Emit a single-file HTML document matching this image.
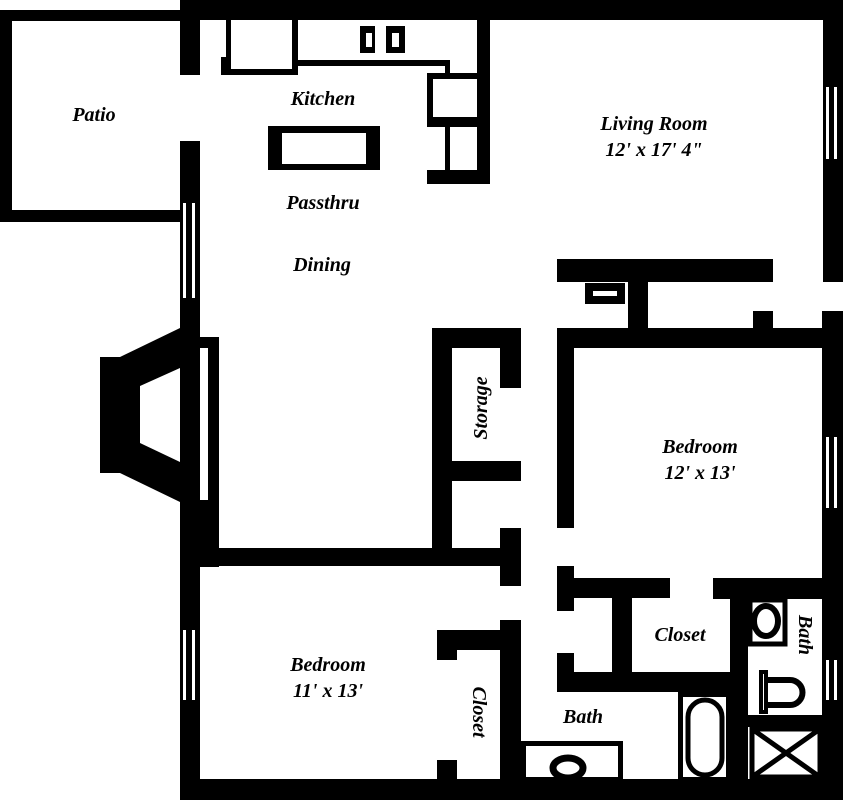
<!DOCTYPE html>
<html><head><meta charset="utf-8"><style>
html,body{margin:0;padding:0;background:#fff}
svg{display:block}
text{font-family:"Liberation Serif",serif;font-style:italic;font-weight:bold;font-size:20px;fill:#000}
</style></head><body>
<svg width="843" height="800" viewBox="0 0 843 800" xmlns="http://www.w3.org/2000/svg">
<g fill="#000">
<rect x="180" y="0" width="663" height="20"/>
<rect x="823" y="0" width="20" height="282"/>
<rect x="822" y="311" width="21" height="489"/>
<rect x="180" y="779" width="663" height="21"/>
<rect x="180" y="0" width="20" height="75"/>
<rect x="180" y="141" width="20" height="659"/>
<rect x="0" y="10" width="180" height="11"/>
<rect x="0" y="10" width="12" height="212"/>
<rect x="0" y="210" width="180" height="12"/>
<rect x="226" y="20" width="72" height="55"/>
<rect x="221" y="57" width="10" height="18"/>
<rect x="292" y="60" width="158" height="6"/>
<rect x="445" y="60" width="5" height="15"/>
<rect x="360" y="26" width="15" height="27"/>
<rect x="386" y="26" width="19" height="27"/>
<rect x="427" y="73" width="50" height="54"/>
<rect x="477" y="20" width="13" height="164"/>
<rect x="445" y="127" width="5" height="45"/>
<rect x="427" y="170" width="63" height="14"/>
<rect x="268" y="126" width="112" height="44"/>
<polygon points="100,357 120,357 180,328 180,502 120,473 100,473"/>
<rect x="200" y="337" width="19" height="230"/>
<rect x="200" y="548" width="321" height="18"/>
<rect x="432" y="328" width="20" height="238"/>
<rect x="432" y="328" width="89" height="20"/>
<rect x="500" y="328" width="21" height="60"/>
<rect x="452" y="461" width="69" height="20"/>
<rect x="500" y="528" width="21" height="58"/>
<rect x="557" y="259" width="216" height="23"/>
<rect x="628" y="282" width="20" height="46"/>
<rect x="585" y="283" width="40" height="21"/>
<rect x="753" y="311" width="20" height="20"/>
<rect x="557" y="328" width="286" height="20"/>
<rect x="557" y="328" width="17" height="200"/>
<rect x="557" y="566" width="17" height="45"/>
<rect x="557" y="578" width="113" height="20"/>
<rect x="612" y="578" width="20" height="114"/>
<rect x="557" y="653" width="17" height="39"/>
<rect x="557" y="672" width="191" height="20"/>
<rect x="713" y="578" width="130" height="21"/>
<rect x="730" y="578" width="18" height="201"/>
<rect x="500" y="560" width="21" height="26"/>
<rect x="500" y="620" width="21" height="160"/>
<rect x="437" y="630" width="84" height="20"/>
<rect x="437" y="630" width="20" height="30"/>
<rect x="437" y="760" width="20" height="20"/>
</g>
<g fill="#fff">
<rect x="231" y="20" width="61" height="49"/>
<rect x="366" y="33" width="6" height="14"/>
<rect x="392" y="33" width="7" height="14"/>
<rect x="433" y="79" width="44" height="38"/>
<rect x="282" y="133" width="84" height="31"/>
<polygon points="140,386 180,368 180,462 140,443"/>
<rect x="200" y="348" width="8" height="152"/>
<rect x="593" y="291" width="24" height="5"/>
<rect x="183" y="203" width="3" height="95"/>
<rect x="192" y="203" width="3" height="95"/>
<rect x="183" y="630" width="3" height="70"/>
<rect x="192" y="630" width="3" height="70"/>
<rect x="826" y="87" width="3" height="72"/>
<rect x="834" y="87" width="3" height="72"/>
<rect x="826" y="437" width="3" height="71"/>
<rect x="834" y="437" width="3" height="71"/>
<rect x="826" y="660" width="3" height="40"/>
<rect x="834" y="660" width="3" height="40"/>
</g>
<g fill="none" stroke="#000">
<rect x="523.5" y="743.5" width="97" height="36" stroke-width="5"/>
<ellipse cx="568" cy="768" rx="15" ry="10" stroke-width="7"/>
<rect x="680.5" y="694.5" width="48" height="85" stroke-width="5"/>
<rect x="688" y="700" width="34" height="75" rx="17" stroke-width="5"/>
<rect x="750" y="600" width="35" height="44" stroke-width="5"/>
<ellipse cx="766" cy="621" rx="12" ry="15" stroke-width="6"/>
<rect x="761" y="672" width="5" height="40" stroke-width="4"/>
<path d="M766,680 H790 A12,12 0 0 1 790,705 H766" stroke-width="6"/>
<rect x="752" y="729" width="68" height="48" stroke-width="5"/>
<path d="M752,729 L820,777 M820,729 L752,777" stroke-width="5"/>
</g>
<rect x="748" y="715" width="74" height="12" fill="#000"/>
<text x="94" y="121" text-anchor="middle">Patio</text>
<text x="323" y="105" text-anchor="middle">Kitchen</text>
<text x="323" y="209" text-anchor="middle">Passthru</text>
<text x="322" y="271" text-anchor="middle">Dining</text>
<text x="654" y="130" text-anchor="middle">Living Room</text>
<text x="654" y="156" text-anchor="middle">12' x 17' 4"</text>
<text x="700" y="453" text-anchor="middle">Bedroom</text>
<text x="700" y="479" text-anchor="middle">12' x 13'</text>
<text x="328" y="671" text-anchor="middle">Bedroom</text>
<text x="328" y="697" text-anchor="middle">11' x 13'</text>
<text x="680" y="641" text-anchor="middle">Closet</text>
<text x="583" y="723" text-anchor="middle">Bath</text>
<text transform="translate(487,408) rotate(-90)" text-anchor="middle">Storage</text>
<text transform="translate(473,712) rotate(90)" text-anchor="middle">Closet</text>
<text transform="translate(799,635) rotate(90)" text-anchor="middle">Bath</text>
</svg>
</body></html>
